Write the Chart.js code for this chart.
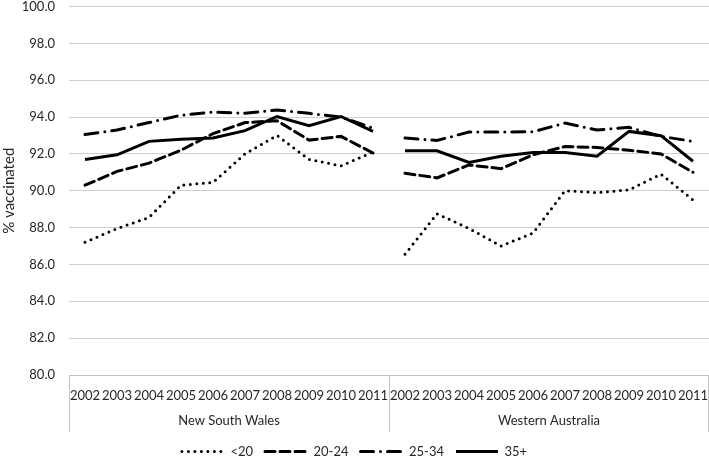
<!DOCTYPE html>
<html>
<head>
<meta charset="utf-8">
<script src="https://cdn.jsdelivr.net/npm/chart.js@4"></script>
<style>
  html, body { margin: 0; padding: 0; background: #fff; }
  #wrap { width: 709px; height: 460px; }
</style>
</head>
<body>
<div id="wrap"><canvas id="grafico"></canvas></div>
<script>
// valores (% vacinados)
var anos = ['2002', '2003', '2004', '2005', '2006', '2007', '2008', '2009', '2010', '2011'];
var estados = ['New South Wales', 'Western Australia'];

var menor20 = [87.2, 87.95, 88.55, 90.3, 90.45, 92.0, 93.0, 91.7, 91.35, 92.1,
               86.55, 88.75, 87.95, 87.0, 87.7, 90.0, 89.9, 90.05, 90.9, 89.5];
var de20a24 = [90.3, 91.05, 91.5, 92.2, 93.1, 93.7, 93.8, 92.75, 92.95, 92.05,
               90.95, 90.7, 91.4, 91.2, 91.95, 92.4, 92.35, 92.2, 92.0, 91.0];
var de25a34 = [93.05, 93.3, 93.7, 94.1, 94.27, 94.2, 94.38, 94.2, 94.0, 93.4,
               92.86, 92.73, 93.19, 93.19, 93.2, 93.67, 93.3, 93.44, 92.95, 92.68];
var mais35 = [91.7, 91.95, 92.68, 92.8, 92.86, 93.26, 94.03, 93.53, 94.03, 93.22,
              92.17, 92.17, 91.54, 91.87, 92.08, 92.08, 91.87, 93.22, 92.99, 91.6];

var rotulosX = estados.flatMap(function () { return anos; });

// esconde o segmento que liga 2011 (NSW) a 2002 (WA)
var quebra = { borderColor: function (ctx) { return ctx.p0DataIndex === 9 ? 'rgba(0,0,0,0)' : undefined; } };

function serie(label, data, dash) {
    return {
        label: label,
        data: data,
        borderColor: '#000',
        backgroundColor: '#000',
        borderWidth: 3,
        borderDash: dash,
        borderCapStyle: dash.length ? 'round' : 'butt',
        pointRadius: 0,
        pointHoverRadius: 0,
        tension: 0,
        segment: quebra
    };
}

// linhas verticais que separam os estados no eixo x
var divisores = {
    id: 'divisores',
    afterDraw: function (chart) {
        var x = chart.scales.x;
        var area = chart.chartArea;
        var ctx = chart.ctx;
        var passo = x.getPixelForValue(1) - x.getPixelForValue(0);
        var pos = [area.left, x.getPixelForValue(9) + passo / 2, area.right - 1];
        ctx.save();
        ctx.strokeStyle = '#c4c4c4';
        ctx.lineWidth = 1;
        pos.forEach(function (p) {
            ctx.beginPath();
            ctx.moveTo(Math.round(p) + 0.5, area.bottom);
            ctx.lineTo(Math.round(p) + 0.5, area.bottom + 57);
            ctx.stroke();
        });
        ctx.restore();
    }
};

Chart.defaults.font.family = 'Lato, "Open Sans", sans-serif';
Chart.defaults.color = '#262626';

new Chart(document.getElementById('grafico').getContext('2d'), {
    type: 'line',
    data: {
        labels: rotulosX,
        datasets: [
            serie('<20', menor20, [0, 6.5]),
            serie('20-24', de20a24, [10, 5]),
            serie('25-34', de25a34, [13, 7, 0, 7]),
            serie('35+', mais35, [])
        ]
    },
    options: {
        responsive: true,
        maintainAspectRatio: false,
        animation: false,
        layout: { padding: { top: 0, right: 0, bottom: -8, left: 0 } },
        scales: {
            y: {
                min: 80,
                max: 100,
                ticks: {
                    stepSize: 2,
                    padding: 0,
                    font: { size: 13, lineHeight: 1 },
                    callback: function (v) { return v.toFixed(1); }
                },
                grid: { color: '#cfcfcf', drawTicks: true, tickLength: 14, tickColor: 'rgba(0,0,0,0)' },
                border: { display: false },
                title: { display: true, text: '% vaccinated', font: { size: 15 }, padding: 0 },
                afterFit: function (s) { s.width = 69; }
            },
            x: {
                type: 'category',
                offset: true,
                ticks: { autoSkip: false, maxRotation: 0, minRotation: 0, padding: 0, font: { size: 13 } },
                grid: { display: true, drawOnChartArea: false, tickLength: 13, tickColor: 'rgba(0,0,0,0)' },
                border: { display: true, color: '#c4c4c4' },
                afterFit: function (s) { s.height = 32; }
            },
            x2: {
                type: 'category',
                position: 'bottom',
                labels: estados,
                offset: true,
                ticks: { padding: 6, font: { size: 13 } },
                grid: { display: false, drawTicks: false },
                border: { display: false },
                afterFit: function (s) { s.height = 26; }
            }
        },
        plugins: {
            legend: {
                position: 'bottom',
                labels: {
                    usePointStyle: true,
                    pointStyleWidth: 42,
                    boxWidth: 42,
                    boxHeight: 10,
                    padding: 12,
                    font: { size: 13 },
                    color: '#262626',
                    // o estilo de linha de cada série vai para a legenda
                    generateLabels: function (chart) {
                        return Chart.defaults.plugins.legend.labels.generateLabels(chart).map(function (item) {
                            var ds = chart.data.datasets[item.datasetIndex];
                            item.pointStyle = 'line';
                            item.lineDash = ds.borderDash;
                            item.lineCap = ds.borderCapStyle;
                            item.lineWidth = 3;
                            item.strokeStyle = '#000';
                            return item;
                        });
                    }
                }
            },
            tooltip: { enabled: false }
        }
    },
    plugins: [divisores]
});
</script>
</body>
</html>
